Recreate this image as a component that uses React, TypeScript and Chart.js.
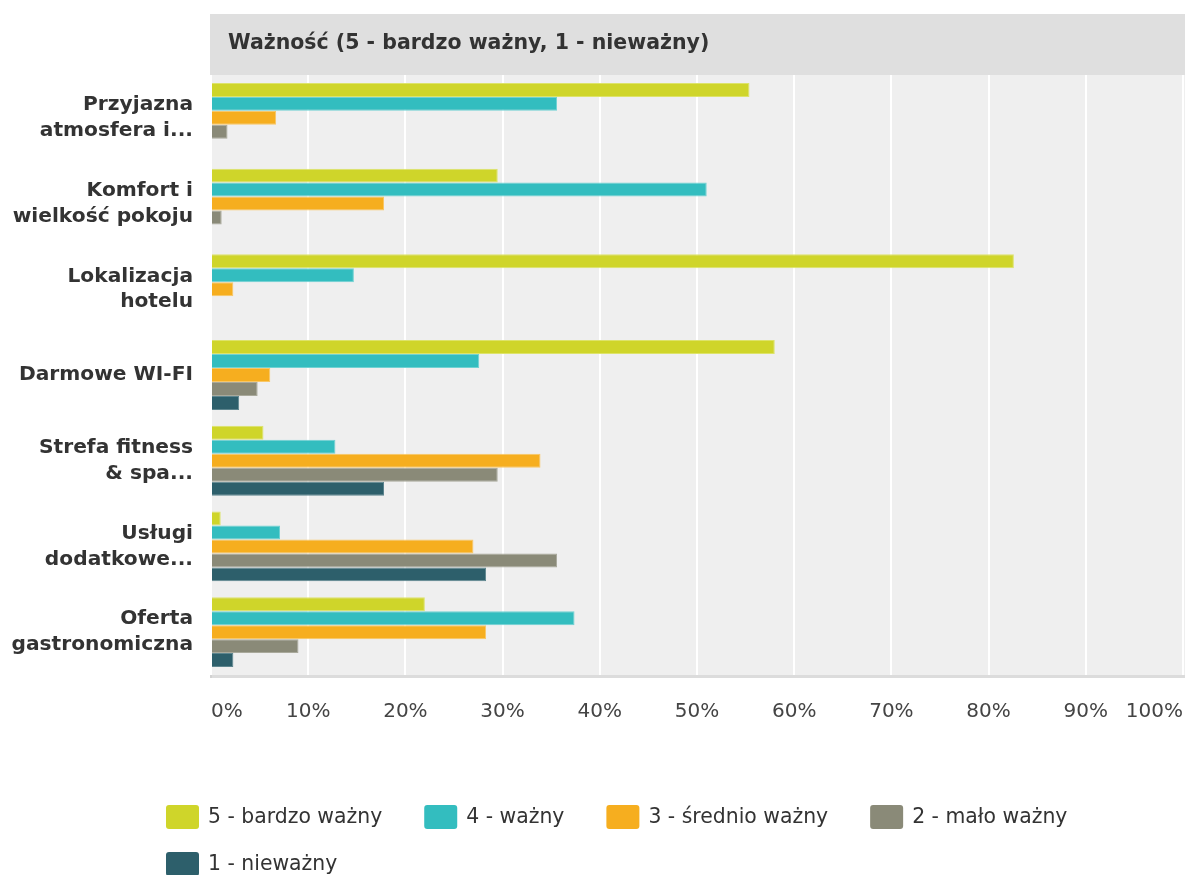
import React, { useEffect, useRef } from "react";
import { Chart, registerables } from "chart.js";

Chart.register(...registerables);

const titleText = "Ważność (5 - bardzo ważny, 1 - nieważny)";

const categories: string[][] = [
  ["Przyjazna", "atmosfera i..."],
  ["Komfort i", "wielkość pokoju"],
  ["Lokalizacja", "hotelu"],
  ["Darmowe WI-FI"],
  ["Strefa fitness", "& spa..."],
  ["Usługi", "dodatkowe..."],
  ["Oferta", "gastronomiczna"],
];

const seriesNames = [
  "5 - bardzo ważny",
  "4 - ważny",
  "3 - średnio ważny",
  "2 - mało ważny",
  "1 - nieważny",
];

const seriesColors = ["#cfd52a", "#33bdbf", "#f6ae1f", "#8a8a78", "#2d5f6b"];
const seriesBorders = ["#dde36a", "#70d2d3", "#f9c766", "#a9a99b", "#5d858e"];

const s5 = [55.4, 29.5, 82.6, 58.0, 5.4, 1.0, 22.0];
const s4 = [35.6, 51.0, 14.7, 27.6, 12.8, 7.1, 37.4];
const s3 = [6.7, 17.8, 2.3, 6.1, 33.9, 27.0, 28.3];
const s2 = [1.7, 1.1, 0, 4.8, 29.5, 35.6, 9.0];
const s1 = [0, 0, 0, 2.9, 17.8, 28.3, 2.3];

const seriesValues = [s5, s4, s3, s2, s1];

const xMin = 0;
const xMax = 100;
const xStep = 10;

const FONT = "'DejaVu Sans', 'Liberation Sans', Arial, sans-serif";

const decorPlugin = {
  id: "decor",
  beforeDraw(chart: any) {
    const { ctx, chartArea, width } = chart;
    const ca = chartArea;
    ctx.save();
    // header band
    ctx.fillStyle = "#dfdfdf";
    ctx.fillRect(ca.left - 1, 14, width - ca.left + 1, ca.top - 14);
    ctx.fillStyle = "#333333";
    ctx.font = `bold 20.5px ${FONT}`;
    ctx.textBaseline = "middle";
    ctx.textAlign = "left";
    ctx.fillText(titleText, ca.left + 17, 44);
    // plot background
    ctx.fillStyle = "#efefef";
    ctx.fillRect(ca.left, ca.top, width - ca.left, ca.bottom - ca.top);
    // bottom band
    ctx.fillStyle = "#dcdcdc";
    ctx.fillRect(ca.left - 1, ca.bottom, width - ca.left + 1, 3);
    // left line
    ctx.fillStyle = "#d2d2d2";
    ctx.fillRect(ca.left - 1, ca.top, 2, ca.bottom - ca.top + 3);
    ctx.restore();
  },
  afterDraw(chart: any) {
    const { ctx, width } = chart;
    ctx.save();
    ctx.font = `20.4px ${FONT}`;
    ctx.textBaseline = "middle";
    ctx.textAlign = "left";
    const startX = 166;
    let x = startX;
    let y = 817;
    const boxW = 33;
    const boxH = 24;
    const textGap = 9;
    const itemGap = 42;
    const rowH = 47;
    chart.data.datasets.forEach((ds: any) => {
      const tw = ctx.measureText(ds.label).width;
      const w = boxW + textGap + tw;
      if (x !== startX && x + w > width) {
        x = startX;
        y += rowH;
      }
      ctx.fillStyle = ds.backgroundColor;
      ctx.beginPath();
      if (ctx.roundRect) ctx.roundRect(x, y - boxH / 2, boxW, boxH, 3);
      else ctx.rect(x, y - boxH / 2, boxW, boxH);
      ctx.fill();
      ctx.fillStyle = "#333333";
      ctx.fillText(ds.label, x + boxW + textGap, y + 1);
      x += w + itemGap;
    });
    ctx.restore();
  },
};

export default function App() {
  const ref = useRef<HTMLCanvasElement | null>(null);

  useEffect(() => {
    if (!ref.current) return;
    const chart = new Chart(ref.current, {
      type: "bar",
      data: {
        labels: categories,
        datasets: seriesNames.map((name, i) => ({
          label: name,
          data: seriesValues[i],
          backgroundColor: seriesColors[i],
          borderColor: seriesBorders[i],
          borderWidth: 1,
          barPercentage: 1,
          categoryPercentage: 0.815,
        })),
      },
      options: {
        indexAxis: "y",
        responsive: false,
        maintainAspectRatio: false,
        animation: false,
        layout: { padding: { top: 75, right: 2, bottom: 0, left: 0 } },
        plugins: {
          legend: { display: false },
          title: { display: false },
          tooltip: { enabled: false },
        },
        scales: {
          x: {
            min: xMin,
            max: xMax,
            grid: { color: "#ffffff", lineWidth: 2, drawTicks: false },
            border: { display: false },
            afterFit: (s: any) => {
              s.height = 200;
              s.paddingLeft = 0;
              s.paddingRight = 0;
            },
            ticks: {
              stepSize: xStep,
              align: "inner",
              padding: 25,
              color: "#444444",
              font: { family: FONT, size: 20 },
              callback: (v: any) => `${v}%`,
            },
          },
          y: {
            grid: { display: false, drawTicks: false },
            border: { display: false },
            afterFit: (s: any) => {
              s.width = 211;
            },
            ticks: {
              padding: 18,
              color: "#333333",
              font: { family: FONT, size: 20.2, weight: "bold", lineHeight: 1.28 },
            },
          },
        },
      },
      plugins: [decorPlugin],
    });
    return () => chart.destroy();
  }, []);

  return (
    <div style={{ position: "fixed", left: 0, top: 0, width: 1185, height: 875, background: "#ffffff" }}>
      <canvas ref={ref} width={1185} height={875} style={{ width: 1185, height: 875, display: "block" }} />
    </div>
  );
}
